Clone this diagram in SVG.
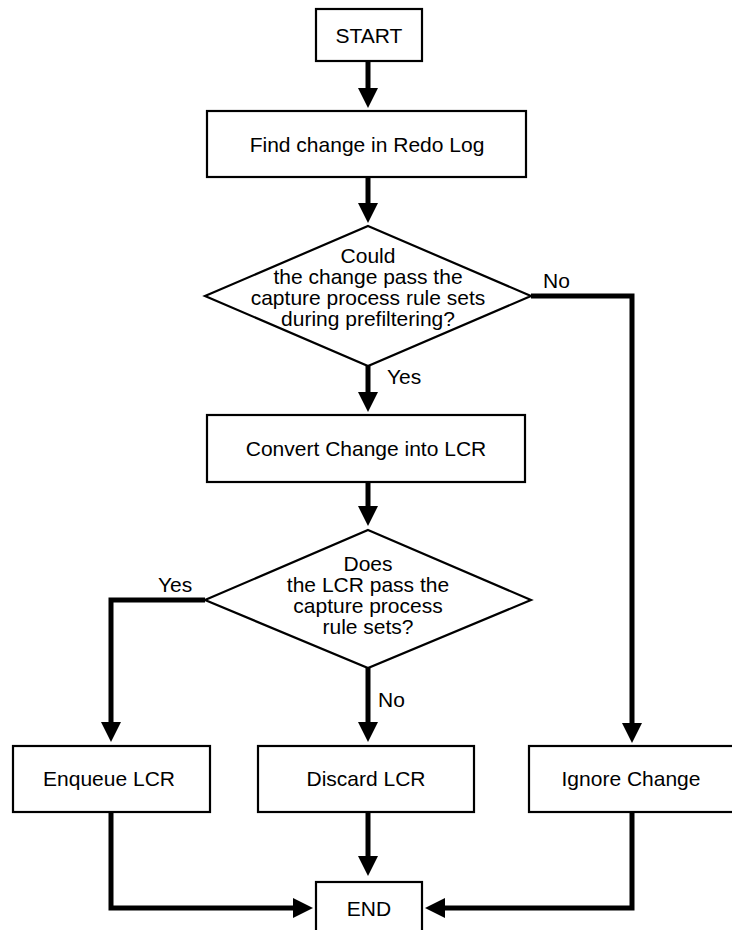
<svg xmlns="http://www.w3.org/2000/svg" width="732" height="930" viewBox="0 0 732 930">
<style>
.box{fill:#fff;stroke:#000;stroke-width:2.2}
.t{font-family:"Liberation Sans",Arial,sans-serif;font-size:21px;fill:#000;text-anchor:middle}
.lbl{font-family:"Liberation Sans",Arial,sans-serif;font-size:21px;fill:#000;text-anchor:start}
.c{fill:none;stroke:#000;stroke-width:5;stroke-linejoin:miter;marker-end:url(#ah)}
.cn{fill:none;stroke:#000;stroke-width:5;stroke-linejoin:miter}
</style>
<defs>
<marker id="ah" markerUnits="userSpaceOnUse" markerWidth="20" markerHeight="20" viewBox="0 0 20 20" refX="1" refY="10" orient="auto">
<path d="M0,0 L20,10 L0,20 z" fill="#000"/>
</marker>
</defs>
<rect width="732" height="930" fill="#fff"/>
<g id="connectors">
<path class="c" d="M368,61 V89"/>
<path class="c" d="M368,177 V204"/>
<path class="c" d="M368,366 V393"/>
<path class="c" d="M531,296 H632 V724"/>
<path class="c" d="M368,482 V507"/>
<path class="c" d="M205,600 H111 V723"/>
<path class="c" d="M368,668 V723"/>
<path class="c" d="M368,812 V857"/>
<path class="c" d="M111,812 V908 H294"/>
<path class="c" d="M632,812 V908 H444"/>
</g>
<g id="labels">
<text class="lbl" x="543" y="288">No</text>
<text class="lbl" x="387" y="384">Yes</text>
<text class="lbl" x="158" y="592">Yes</text>
<text class="lbl" x="378" y="707">No</text>
</g>
<g id="start">
<rect class="box" x="316" y="9" width="106" height="52"/>
<text class="t" x="369" y="43">START</text>
</g>
<g id="find">
<rect class="box" x="207" y="111" width="319" height="66"/>
<text class="t" x="367" y="152">Find change in Redo Log</text>
</g>
<g id="decision1">
<polygon class="box" points="368,226 531,296 368,366 205,296"/>
<text class="t" x="368" y="263">Could</text>
<text class="t" x="368" y="284">the change pass the</text>
<text class="t" x="368" y="305">capture process rule sets</text>
<text class="t" x="368" y="326">during prefiltering?</text>
</g>
<g id="convert">
<rect class="box" x="207" y="415" width="318" height="67"/>
<text class="t" x="366" y="456">Convert Change into LCR</text>
</g>
<g id="decision2">
<polygon class="box" points="368,530 531,600 368,668 205,600"/>
<text class="t" x="368" y="571">Does</text>
<text class="t" x="368" y="592">the LCR pass the</text>
<text class="t" x="368" y="613">capture process</text>
<text class="t" x="368" y="634">rule sets?</text>
</g>
<g id="enqueue">
<rect class="box" x="13" y="746" width="197" height="66"/>
<text class="t" x="109" y="786">Enqueue LCR</text>
</g>
<g id="discard">
<rect class="box" x="258" y="746" width="216" height="66"/>
<text class="t" x="366" y="786">Discard LCR</text>
</g>
<g id="ignore">
<rect class="box" x="529" y="746" width="212" height="66"/>
<text class="t" x="631" y="786">Ignore Change</text>
</g>
<g id="end">
<rect class="box" x="316" y="882" width="106" height="60"/>
<text class="t" x="369" y="916">END</text>
</g>
</svg>
